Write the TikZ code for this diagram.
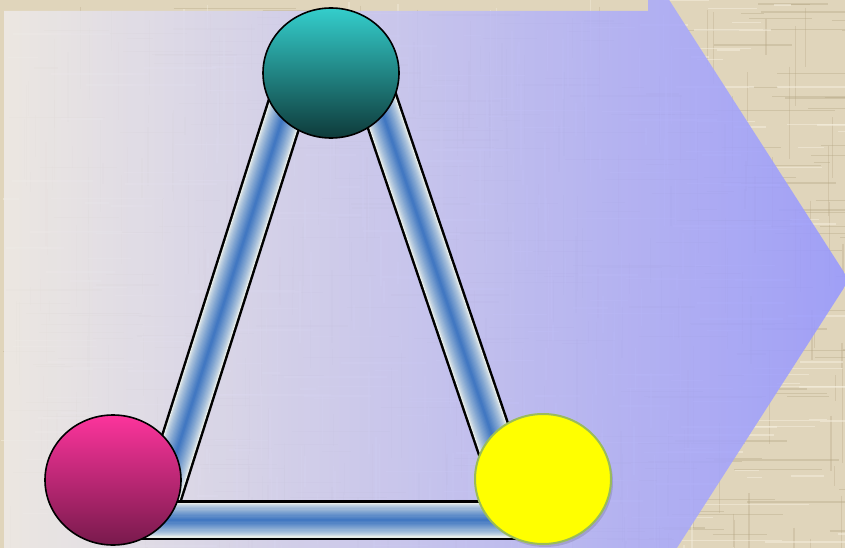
\documentclass[tikz,border=0pt]{standalone}
\usetikzlibrary{shapes.geometric,shadows}
\definecolor{beige}{RGB}{224,213,187}
\definecolor{texdark}{RGB}{178,162,128}
\definecolor{texlight}{RGB}{246,240,224}
\definecolor{arrowleft}{RGB}{238,234,231}
\definecolor{arrowright}{RGB}{151,152,255}
\definecolor{tubeedge}{RGB}{230,236,234}
\definecolor{tubeblue}{RGB}{66,120,194}
\definecolor{tealtop}{RGB}{52,206,204}
\definecolor{tealbot}{RGB}{14,58,58}
\definecolor{pinktop}{RGB}{252,52,156}
\definecolor{pinkbot}{RGB}{120,26,76}
\definecolor{yelborder}{RGB}{155,187,89}
\definecolor{yelfill}{RGB}{255,255,0}
\newcommand\tubebar[2]{%
  \draw[line width=40pt, black] (#1) -- (#2);
  \foreach \k in {0,...,14}{%
    \pgfmathsetmacro\ww{35*(1-\k/15)}%
    \pgfmathtruncatemacro\pp{100*(\k/14)^0.75}%
    \draw[line width=\ww pt, color=tubeblue!\pp!tubeedge] (#1) -- (#2);
  }}
\tikzset{
  ball/.style={ellipse, minimum width=136pt, minimum height=130pt, inner sep=0pt},
}
\begin{document}
\begin{tikzpicture}[x=1pt,y=-1pt,line cap=butt]
\useasboundingbox (0,0) rectangle (845,548);
\clip (0,0) rectangle (845,548);
% textured background
\fill[beige] (0,0) rectangle (845,548);
\pgfmathsetseed{12}
\foreach \i in {1,...,260}{%
  \pgfmathsetmacro\xa{rnd*845}%
  \pgfmathsetmacro\ya{rnd*548}%
  \pgfmathsetmacro\la{15+rnd*110}%
  \draw[texdark, line width=1.2pt, opacity=0.35] (\xa,\ya) -- ++(\la,0);
}
\foreach \i in {1,...,260}{%
  \pgfmathsetmacro\xa{rnd*845}%
  \pgfmathsetmacro\ya{rnd*548}%
  \pgfmathsetmacro\la{15+rnd*90}%
  \draw[texdark, line width=1.2pt, opacity=0.3] (\xa,\ya) -- ++(0,\la);
}
\foreach \i in {1,...,200}{%
  \pgfmathsetmacro\xa{rnd*845}%
  \pgfmathsetmacro\ya{rnd*548}%
  \pgfmathsetmacro\la{15+rnd*100}%
  \draw[texlight, line width=1.5pt, opacity=0.5] (\xa,\ya) -- ++(\la,0);
  \draw[texlight, line width=1.5pt, opacity=0.4] (\ya+150,\xa*0.65) -- ++(0,\la*0.8);
}
% big arrow
\shade[left color=arrowleft, right color=arrowright, fill opacity=0.88]
  (4,11) -- (648,11) -- (648,-33) -- (849,280) -- (648,593) -- (4,593) -- cycle;
% bar end points
\coordinate (BL) at (155,520);
\coordinate (BR) at (521,520);
\coordinate (TL) at (297,73);
\coordinate (TR) at (369,73);
\coordinate (EL) at (115,520);
\coordinate (ER) at (556,520);
\tubebar{BL}{TL}
\tubebar{BR}{TR}
\tubebar{EL}{ER}
% balls
\node[ball, draw=black, line width=1.6pt, top color=tealtop, bottom color=tealbot] (teal) at (331,73) {};
\node[ball, draw=black, line width=1.6pt, top color=pinktop, bottom color=pinkbot] (pink) at (113,480) {};
\node[ball, draw=yelborder, line width=2pt, fill=yelfill,
  drop shadow={shadow xshift=2pt, shadow yshift=-3pt, fill=black, opacity=0.12}] (yel) at (543,479) {};
\end{tikzpicture}
\end{document}
